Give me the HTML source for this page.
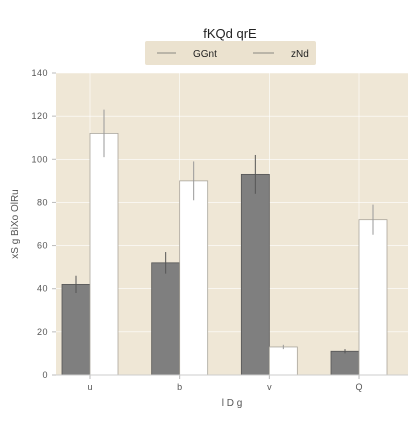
<!DOCTYPE html>
<html><head><meta charset="utf-8"><style>
body{margin:0;background:#fff;font-family:"Liberation Sans","DejaVu Sans",sans-serif}
</style></head><body>
<svg width="420" height="420" xmlns="http://www.w3.org/2000/svg">
<rect x="56" y="73" width="352" height="302" fill="#efe7d6"/>
<g id="grid"></g><g id="bars"></g><g id="axes"></g>
<text x="230" y="38" text-anchor="middle" font-size="13" fill="#222">fKQd qrE</text>
<g>
<rect x="145" y="41" width="171" height="24" rx="2" fill="#ebe2cf"/>
<line x1="157" y1="53" x2="176" y2="53" stroke="#aaa69c" stroke-width="1.5"/>
<text x="193" y="57" font-size="10" fill="#222">GGnt</text>
<line x1="253" y1="53" x2="274" y2="53" stroke="#aaa69c" stroke-width="1.5"/>
<text x="291" y="57" font-size="10" fill="#222">zNd</text>
</g>
<text x="232" y="406" text-anchor="middle" font-size="10" fill="#555">l D g</text>
<text transform="translate(18,224) rotate(-90)" text-anchor="middle" font-size="10" fill="#555">xS g BiXo OlRu</text>
</svg>
<script>
const categories=["u","b","v","Q"];
const seriesA=[42,52,93,11];
const seriesB=[112,90,13,72];
const errA=[4,5,9,1];
const errB=[11,9,1,7];
const yTicks=[0,20,40,60,80,100,120,140];
const NS="http://www.w3.org/2000/svg";
const L=56,R=408,T=73,B=375,yMax=140;
const y=v=>B-(v/yMax)*(B-T);
const step=(R-L-83)/(categories.length-1);
const xc=i=>L+34+step*i;
function mk(tag,at,parent){const e=document.createElementNS(NS,tag);for(const k in at)e.setAttribute(k,at[k]);document.getElementById(parent).appendChild(e);return e;}
yTicks.forEach(t=>{
 const g=mk('line',{x1:L,x2:R,y1:y(t),y2:y(t),stroke:'#fff','stroke-width':0.6},'grid');
 
 
 mk('line',{x1:L-4,x2:L,y1:y(t),y2:y(t),stroke:'#bbb'},'axes');
 const tx=mk('text',{x:L-8,y:y(t)+3,'text-anchor':'end','font-size':9,fill:'#555','letter-spacing':'0.5'},'axes');
 tx.textContent=t;
 
 
});
categories.forEach((c,i)=>{
 const x=xc(i),w=28;
 const vg=mk('line',{x1:x,x2:x,y1:T-3,y2:B,stroke:'#fff','stroke-width':0.6},'grid');
 
 
 const a=mk('rect',{x:x-w,y:y(seriesA[i]),width:w,height:B-y(seriesA[i]),fill:'#7f7f7f',stroke:'#555','stroke-width':0.8},'bars');
 
 
 const b=mk('rect',{x:x,y:y(seriesB[i]),width:w,height:B-y(seriesB[i]),fill:'#fff',stroke:'#aaa69c','stroke-width':0.8},'bars');
 
 
 const ea=mk('line',{x1:x-w/2,x2:x-w/2,y1:y(seriesA[i]-errA[i]),y2:y(seriesA[i]+errA[i]),stroke:'#555'},'bars');
 
 
 const eb=mk('line',{x1:x+w/2,x2:x+w/2,y1:y(seriesB[i]-errB[i]),y2:y(seriesB[i]+errB[i]),stroke:'#999'},'bars');
 
 
 mk('line',{x1:x,x2:x,y1:B,y2:B+4,stroke:'#bbb'},'axes');
 const t=mk('text',{x:x,y:B+15,'text-anchor':'middle','font-size':9,fill:'#555'},'axes');
 t.textContent=c;
 
 
});
mk('line',{x1:L,x2:R,y1:B,y2:B,stroke:'#ccc'},'axes');
</script>
</body></html>
